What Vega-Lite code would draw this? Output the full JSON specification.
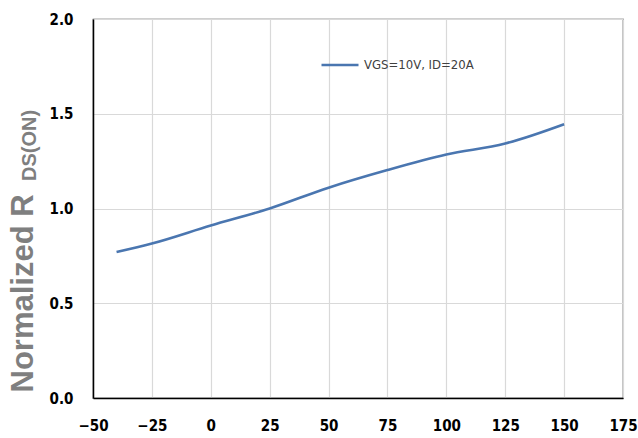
{
  "$schema": "https://vega.github.io/schema/vega-lite/v6.json",
  "width": 530,
  "height": 379,
  "autosize": {"type": "none"},
  "padding": {"left": 93, "top": 19, "right": 15, "bottom": 40},
  "background": "white",
  "config": {
    "view": {"stroke": "#404040", "strokeWidth": 1.2},
    "font": "Liberation Sans"
  },
  "datasets": {
    "curve": [
      {"temp": -40, "r": 0.77, "series": "VGS=10V, ID=20A"},
      {"temp": -25, "r": 0.815, "series": "VGS=10V, ID=20A"},
      {"temp": 0, "r": 0.91, "series": "VGS=10V, ID=20A"},
      {"temp": 25, "r": 1.0, "series": "VGS=10V, ID=20A"},
      {"temp": 50, "r": 1.11, "series": "VGS=10V, ID=20A"},
      {"temp": 75, "r": 1.203, "series": "VGS=10V, ID=20A"},
      {"temp": 100, "r": 1.285, "series": "VGS=10V, ID=20A"},
      {"temp": 125, "r": 1.343, "series": "VGS=10V, ID=20A"},
      {"temp": 150, "r": 1.445, "series": "VGS=10V, ID=20A"}
    ],
    "sub": [{"label": "DS(ON)"}]
  },
  "layer": [
    {
      "data": {"name": "curve"},
      "mark": {"type": "line", "interpolate": "monotone", "strokeWidth": 2.6},
      "encoding": {
        "x": {
          "field": "temp",
          "type": "quantitative",
          "scale": {"domain": [-50, 175], "nice": false, "zero": false},
          "axis": {
            "values": [-50, -25, 0, 25, 50, 75, 100, 125, 150, 175],
            "title": null,
            "grid": true,
            "gridColor": "#d9d9d9",
            "gridWidth": 1.2,
            "ticks": false,
            "domainColor": "#000000",
            "domainWidth": 1.5,
            "labelFont": "'DejaVu Sans Condensed', 'Open Sans', sans-serif",
            "labelFontWeight": "bold",
            "labelFontSize": 15,
            "labelColor": "#000000",
            "labelPadding": 20,
            "labelFlush": false
          }
        },
        "y": {
          "field": "r",
          "type": "quantitative",
          "scale": {"domain": [0, 2], "nice": false},
          "axis": {
            "values": [0, 0.5, 1, 1.5, 2],
            "format": ".1f",
            "grid": true,
            "gridColor": "#d9d9d9",
            "gridWidth": 1.2,
            "ticks": false,
            "domainColor": "#000000",
            "domainWidth": 1.5,
            "labelFont": "'DejaVu Sans Condensed', 'Open Sans', sans-serif",
            "labelFontWeight": "bold",
            "labelFontSize": 15,
            "labelColor": "#000000",
            "labelPadding": 20,
            "labelFlush": false,
            "title": "Normalized R",
            "titleFont": "Liberation Sans",
            "titleFontWeight": "bold",
            "titleFontSize": 31,
            "titleColor": "#7f7f7f",
            "titleAngle": 270,
            "titleAlign": "left",
            "titleBaseline": "alphabetic",
            "titleX": -61,
            "titleY": 373
          }
        },
        "color": {
          "field": "series",
          "type": "nominal",
          "scale": {"range": ["#4a76b0"]},
          "legend": {
            "title": null,
            "orient": "none",
            "legendX": 227,
            "legendY": 26,
            "padding": 0,
            "symbolType": "stroke",
            "symbolSize": 1369,
            "symbolStrokeWidth": 2.6,
            "labelFont": "'DejaVu Sans Condensed', 'Open Sans', sans-serif",
            "labelFontSize": 13,
            "labelColor": "#404040",
            "labelOffset": 4
          }
        }
      }
    },
    {
      "data": {"name": "sub"},
      "mark": {
        "type": "text",
        "angle": 270,
        "align": "left",
        "baseline": "alphabetic",
        "font": "Liberation Sans",
        "fontWeight": "bold",
        "fontSize": 20,
        "color": "#7f7f7f",
        "dy": -57
      },
      "encoding": {
        "x": {"datum": -50},
        "y": {"datum": 1.145},
        "text": {"field": "label"}
      }
    }
  ]
}
